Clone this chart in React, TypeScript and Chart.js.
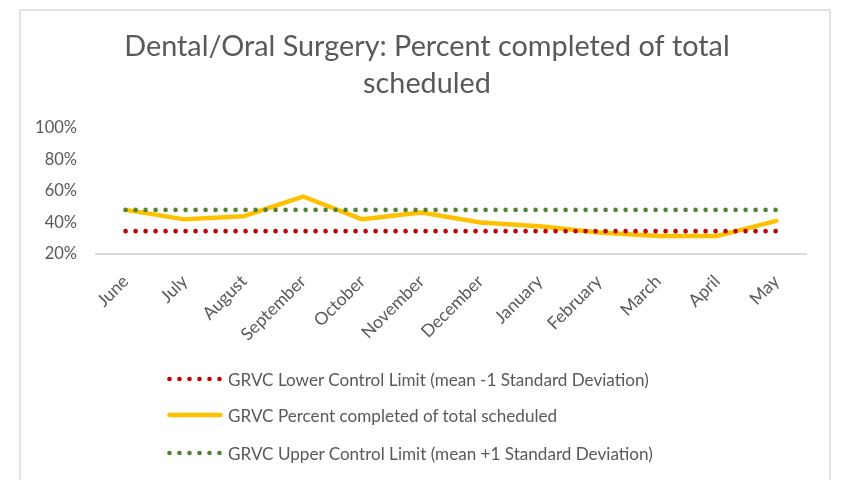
import React, { useEffect, useRef } from "react";
import { Chart, registerables } from "chart.js";

Chart.register(...registerables);

const months = [
  "June", "July", "August", "September", "October", "November",
  "December", "January", "February", "March", "April", "May",
];
const percentCompleted = [48, 42, 44, 56.5, 42, 46.3, 40, 37.6, 33.6, 31.5, 31.5, 41];
const lowerLimit = [34.5, 34.5, 34.5, 34.5, 34.5, 34.5, 34.5, 34.5, 34.5, 34.5, 34.5, 34.5];
const upperLimit = [48, 48, 48, 48, 48, 48, 48, 48, 48, 48, 48, 48];
const yTicks = [20, 40, 60, 80, 100];
const titleLines = ["Dental/Oral Surgery: Percent completed of total", "scheduled"];
const seriesNames = [
  "GRVC Lower Control Limit (mean -1 Standard Deviation)",
  "GRVC Percent completed of total scheduled",
  "GRVC Upper Control Limit (mean +1 Standard Deviation)",
];

const RED = "#C00000";
const YELLOW = "#FFC000";
const GREEN = "#548235";
const TEXT = "#595959";
const FONT = "Lato, 'Open Sans', sans-serif";

function DotMarker({ color }: { color: string }) {
  const xs = [0, 1, 2, 3, 4, 5];
  return (
    <svg width={56} height={10} style={{ display: "block" }}>
      {xs.map((i) => (
        <circle key={i} cx={2.5 + i * 10} cy={5} r={2.3} fill={color} />
      ))}
    </svg>
  );
}

function LineMarker({ color }: { color: string }) {
  return (
    <svg width={56} height={10} style={{ display: "block" }}>
      <line x1={2.5} y1={5} x2={53.5} y2={5} stroke={color} strokeWidth={4.5} strokeLinecap="round" />
    </svg>
  );
}

// Centre the title on the outer frame rather than on the padded layout box.
const titleShift = {
  id: "titleShift",
  afterLayout(chart: any) {
    const t = chart.titleBlock;
    if (t) {
      t.left += 8;
      t.right += 8;
    }
  },
};

export default function App() {
  const canvasRef = useRef<HTMLCanvasElement | null>(null);

  useEffect(() => {
    if (!canvasRef.current) return;
    const chart = new Chart(canvasRef.current, {
      type: "line",
      data: {
        labels: months,
        datasets: [
          {
            label: seriesNames[0],
            data: lowerLimit,
            borderColor: RED,
            backgroundColor: RED,
            borderWidth: 4.6,
            borderDash: [0, 10],
            borderCapStyle: "round",
            pointRadius: 0,
            fill: false,
            order: 0,
          },
          {
            label: seriesNames[1],
            data: percentCompleted,
            borderColor: YELLOW,
            backgroundColor: YELLOW,
            borderWidth: 4.5,
            borderJoinStyle: "round",
            borderCapStyle: "round",
            pointRadius: 0,
            tension: 0,
            fill: false,
            order: 2,
          },
          {
            label: seriesNames[2],
            data: upperLimit,
            borderColor: GREEN,
            backgroundColor: GREEN,
            borderWidth: 4.6,
            borderDash: [0, 10],
            borderCapStyle: "round",
            pointRadius: 0,
            fill: false,
            order: 1,
          },
        ],
      },
      options: {
        animation: false,
        responsive: false,
        layout: { padding: { left: 24, right: 27, top: 0, bottom: 118 } },
        plugins: {
          legend: { display: false },
          tooltip: { enabled: false },
          title: {
            display: true,
            text: titleLines,
            color: TEXT,
            font: { family: FONT, size: 28.8, weight: "normal", lineHeight: 37 / 28.8 },
            padding: { top: 20, bottom: 26 },
          },
        },
        scales: {
          x: {
            offset: true,
            grid: { display: false, drawTicks: false },
            border: { display: true, color: "#D9D9D9", width: 2 },
            ticks: {
              color: TEXT,
              font: { family: FONT, size: 17.5 },
              minRotation: 45,
              maxRotation: 45,
              padding: 17,
              autoSkip: false,
            },
            afterFit: (s: any) => {
              s.height = 100;
            },
          },
          y: {
            min: 20,
            max: 100,
            grid: { display: false, drawTicks: false },
            border: { display: false },
            ticks: {
              color: TEXT,
              font: { family: FONT, size: 16.5 },
              padding: 19,
              callback: (v: any) => `${v}%`,
            },
            afterBuildTicks: (s: any) => {
              s.ticks = yTicks.map((v) => ({ value: v }));
            },
            afterFit: (s: any) => {
              s.width = 64;
            },
          },
        },
      },
      plugins: [titleShift],
    });
    return () => chart.destroy();
  }, []);

  const rowTops = [361, 397, 435];
  return (
    <div style={{ position: "relative", width: 825, height: 464, fontFamily: FONT }}>
      <div
        style={{
          position: "fixed",
          left: 19,
          top: 9,
          width: 812,
          height: 480,
          border: "2px solid #E3E3E3",
          boxSizing: "border-box",
        }}
      />
      <canvas ref={canvasRef} width={825} height={464} style={{ position: "absolute", left: 0, top: 0, display: "block" }} />
      {seriesNames.map((name, i) => (
        <div
          key={name}
          style={{
            position: "absolute",
            left: 159,
            top: rowTops[i],
            height: 20,
            display: "flex",
            alignItems: "center",
            whiteSpace: "nowrap",
            color: TEXT,
            fontSize: 17.1,
          }}
        >
          {i === 0 && <DotMarker color={RED} />}
          {i === 1 && <LineMarker color={YELLOW} />}
          {i === 2 && <DotMarker color={GREEN} />}
          <span style={{ marginLeft: 5 }}>{name}</span>
        </div>
      ))}
    </div>
  );
}
